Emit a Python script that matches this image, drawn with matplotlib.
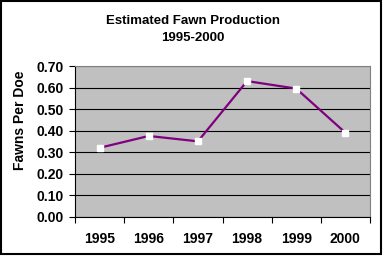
import matplotlib
matplotlib.use("Agg")
import matplotlib.pyplot as plt
from matplotlib.patches import Rectangle
import numpy as np

years = ["1995", "1996", "1997", "1998", "1999", "2000"]
fawns_per_doe = [0.32, 0.375, 0.35, 0.63, 0.595, 0.39]
y_ticks = [0.0, 0.1, 0.2, 0.3, 0.4, 0.5, 0.6, 0.7]
title_lines = ["Estimated Fawn Production", "1995-2000"]
y_label = "Fawns Per Doe"

plt.rcParams['font.family'] = ['Liberation Sans', 'DejaVu Sans']

W, H = 385, 256
fig = plt.figure(figsize=(W / 100, H / 100), dpi=100)
fig.patch.set_facecolor("white")

# outer frame
fig.patches.append(Rectangle((0.5 / W, 2.5 / H), 380.5 / W, 253 / H, transform=fig.transFigure,
                             fill=False, edgecolor="black", linewidth=1.5))

l, r, t, b = 75, 370, 66, 216.7
ax = fig.add_axes([l / W, 1 - b / H, (r - l) / W, (b - t) / H])
ax.set_facecolor("#C0C0C0")

x = np.arange(len(years))
ax.plot(x, fawns_per_doe, color="#800080", linewidth=1.6, marker="s",
        markersize=4.5, markerfacecolor="white", markeredgecolor="white", zorder=3)

ax.set_xlim(-0.5, len(years) - 0.5)
ax.set_ylim(0, 0.7)
ax.set_yticks(y_ticks)
ax.set_yticklabels([f"{v:.2f}" for v in y_ticks], fontsize=10, fontweight="bold")
ax.grid(axis="y", color="black", linewidth=0.8)
ax.set_axisbelow(True)

ax.set_xticks(np.arange(-0.5, len(years), 1.0))
ax.set_xticklabels([])
ax.set_xticks(x, minor=True)
ax.set_xticklabels(years, minor=True, fontsize=10, fontweight="bold")
ax.tick_params(axis="x", which="minor", length=0, pad=11)
ax.tick_params(axis="x", which="major", length=4, width=0.8, direction="out", color="black")
ax.tick_params(axis="y", length=4, width=0.8, direction="out", pad=4, color="black")

for s in ["top", "right"]:
    ax.spines[s].set_color("#808080")
    ax.spines[s].set_linewidth(0.8)
for s in ["left", "bottom"]:
    ax.spines[s].set_color("black")
    ax.spines[s].set_linewidth(0.8)

fig.text(192.5 / W, 1 - 21 / H, title_lines[0], ha="center", va="center", fontsize=9.5, fontweight="bold")
fig.text(192.5 / W, 1 - 38 / H, title_lines[1], ha="center", va="center", fontsize=9.5, fontweight="bold")
fig.text(20 / W, 1 - 120 / H, y_label, ha="center", va="center", rotation=90, fontsize=10, fontweight="bold")

fig.savefig("out.png", dpi=100)
